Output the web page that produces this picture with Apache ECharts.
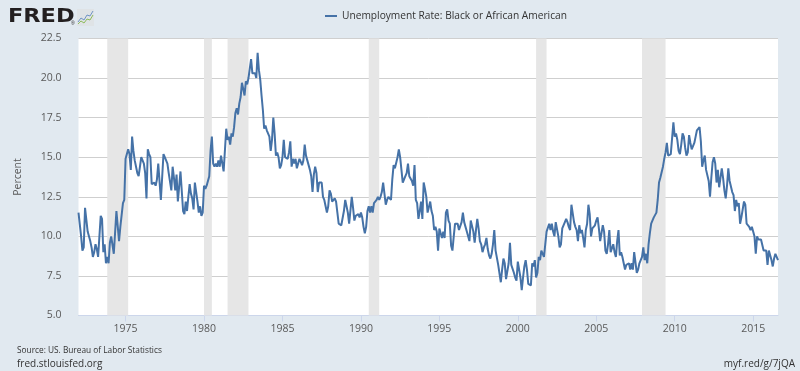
<!DOCTYPE html>
<html><head><meta charset="utf-8">
<script src="https://cdn.jsdelivr.net/npm/echarts@6/dist/echarts.min.js"></script>
<style>html,body{margin:0;padding:0;background:#e1e9f0;}#c{width:800px;height:371px;}</style>
</head><body><div id="c"></div>
<script>
// Monthly unemployment rate, Black or African American, starting 1972-01
const startYear = 1972;
const v1970s = [
  11.5, 11.4, 10.0, 9.1, 9.3, 11.8, 11.8, 10.3, 10.2, 9.7, 9.3, 8.7,   // 1972
  9.0, 9.5, 9.2, 8.7, 8.8, 11.3, 11.1, 9.0, 9.5, 8.3, 8.7, 8.3,        // 1973
  9.6, 10.0, 10.0, 8.9, 8.8, 11.6, 11.5, 9.7, 10.6, 10.7, 12.1, 12.3,  // 1974
  14.9, 15.0, 15.5, 15.2, 14.2, 16.3, 15.4, 14.8, 14.9, 14.0, 13.8, 14.4, // 1975
  15.0, 15.1, 14.6, 14.0, 12.4, 15.5, 15.2, 15.0, 13.3, 13.2, 13.4, 13.2, // 1976
  13.6, 14.6, 14.7, 12.3, 12.4, 15.2, 15.0, 15.1, 14.6, 14.0, 14.1, 12.9, // 1977
  14.4, 13.7, 12.9, 13.9, 12.2, 12.1, 14.1, 14.2, 11.6, 11.4, 12.2, 11.6, // 1978
  12.5, 13.3, 12.7, 12.4, 11.7, 13.4, 13.3, 12.2, 11.5, 11.9, 11.3, 11.5  // 1979
];
const v1980s = [
  13.2, 13.0, 13.2, 13.3, 13.8, 15.4, 16.3, 14.6, 14.4, 14.6, 14.4, 14.8, // 1980
  14.4, 15.1, 15.0, 14.1, 14.2, 16.8, 16.1, 16.3, 15.8, 16.5, 16.3, 16.9, // 1981
  17.8, 18.1, 17.7, 18.4, 18.8, 19.7, 19.6, 18.9, 19.8, 19.6, 20.0, 20.6, // 1982
  21.2, 20.3, 20.2, 20.3, 20.0, 21.6, 20.5, 19.9, 18.9, 18.0, 16.8, 17.0, // 1983
  16.7, 16.6, 16.3, 15.4, 16.1, 17.5, 16.5, 15.1, 15.3, 15.0, 14.3, 14.5, // 1984
  15.0, 16.1, 15.0, 15.1, 14.9, 15.3, 16.0, 14.4, 14.9, 14.6, 14.9, 14.3, // 1985
  14.6, 14.9, 14.7, 14.5, 14.8, 15.8, 15.1, 14.8, 14.7, 14.2, 13.8, 12.8, // 1986
  13.9, 14.4, 14.0, 12.8, 13.4, 13.5, 13.4, 12.5, 12.3, 11.9, 11.5, 11.9, // 1987
  12.9, 12.7, 12.2, 12.3, 12.4, 12.2, 11.5, 10.8, 10.7, 10.7, 10.7, 11.6, // 1988
  12.3, 11.9, 11.5, 10.8, 10.9, 12.5, 11.8, 11.0, 11.3, 11.2, 11.4, 11.2  // 1989
];
const v1990s = [
  11.5, 11.2, 10.6, 10.2, 10.6, 11.6, 11.9, 11.5, 11.9, 11.5, 12.1, 12.2, // 1990
  12.3, 12.5, 12.3, 12.5, 12.8, 13.4, 12.7, 12.0, 12.3, 12.5, 12.6, 12.3, // 1991
  13.6, 14.5, 14.3, 14.4, 15.0, 15.5, 15.0, 14.2, 13.4, 13.6, 13.8, 14.0, // 1992
  14.6, 13.8, 13.9, 13.5, 13.2, 14.5, 12.3, 12.1, 11.1, 11.6, 12.2, 11.1, // 1993
  13.4, 13.0, 12.5, 11.5, 11.6, 12.2, 11.6, 11.3, 10.4, 10.6, 10.3, 9.1,  // 1994
  10.5, 10.4, 9.9, 10.3, 9.9, 11.5, 11.7, 11.0, 10.8, 9.4, 9.1, 10.0,     // 1995
  10.8, 10.7, 10.8, 10.4, 10.3, 10.9, 11.5, 10.9, 10.6, 10.3, 10.0, 9.7,  // 1996
  11.0, 11.0, 10.3, 9.6, 10.4, 11.1, 10.5, 9.7, 9.5, 9.0, 9.3, 9.5,       // 1997
  9.9, 9.2, 8.8, 8.6, 8.9, 9.5, 10.4, 9.1, 9.0, 8.2, 8.1, 7.1,            // 1998
  7.9, 8.6, 8.3, 7.3, 7.3, 8.3, 9.6, 8.2, 8.3, 7.7, 7.4, 7.2              // 1999
];
const v2000s = [
  8.4, 8.3, 7.4, 6.6, 7.4, 8.1, 8.5, 7.9, 7.0, 7.0, 6.9, 8.3,             // 2000
  8.1, 8.5, 7.4, 7.7, 8.7, 8.5, 9.1, 9.2, 8.7, 9.5, 10.3, 10.2,           // 2001
  10.8, 10.4, 10.8, 10.3, 10.0, 10.9, 10.8, 10.0, 9.3, 9.5, 10.5, 10.6,   // 2002
  10.9, 11.1, 10.9, 10.6, 10.4, 12.0, 12.0, 10.9, 10.6, 10.4, 9.7, 10.7,  // 2003
  10.2, 10.4, 9.9, 9.3, 10.4, 10.8, 12.0, 11.4, 10.0, 10.5, 10.4, 10.7,   // 2004
  11.0, 11.2, 10.5, 9.7, 9.7, 10.7, 10.3, 9.1, 8.9, 9.5, 10.4, 9.0,       // 2005
  8.9, 9.5, 9.0, 8.7, 9.7, 10.4, 8.8, 9.0, 8.7, 8.3, 7.9, 8.2,            // 2006
  8.2, 8.3, 7.9, 8.3, 7.9, 9.0, 8.9, 7.7, 7.9, 8.3, 8.5, 8.7,             // 2007
  9.3, 8.5, 8.9, 8.3, 9.5, 10.2, 10.8, 10.9, 11.2, 11.1, 11.5, 12.3,      // 2008
  13.4, 13.7, 13.6, 14.4, 14.9, 15.3, 15.9, 15.1, 15.2, 15.2, 15.3, 17.2  // 2009
];
const v2010s = [
  16.3, 16.5, 16.1, 15.4, 15.2, 15.8, 16.5, 16.3, 15.6, 15.1, 15.3, 16.4, // 2010
  15.9, 15.5, 15.6, 15.9, 16.3, 16.7, 16.8, 16.9, 16.0, 14.4, 14.8, 15.1, // 2011
  14.2, 14.1, 13.5, 12.5, 13.7, 14.7, 15.0, 14.6, 13.4, 14.2, 13.1, 13.7, // 2012
  14.3, 13.7, 12.9, 12.4, 13.2, 14.3, 13.5, 13.4, 12.8, 12.6, 11.6, 12.3, // 2013
  11.9, 12.1, 10.8, 11.2, 11.2, 12.2, 12.0, 10.8, 10.7, 10.6, 10.4, 10.6, // 2014
  10.3, 10.0, 8.9, 10.0, 9.8, 9.7, 9.8, 9.8, 9.1, 9.1, 9.1, 8.2,          // 2015
  9.1, 9.0, 8.5, 8.1, 8.6, 8.9, 9.0, 8.5                                 // 2016 (Jan-Aug)
];
const recessions = [
  ['1973-11', '1975-03'], ['1980-01', '1980-07'], ['1981-07', '1982-11'],
  ['1990-07', '1991-03'], ['2001-03', '2001-11'], ['2007-12', '2009-06']
];
const xTickYears = [1975, 1980, 1985, 1990, 1995, 2000, 2005, 2010, 2015];
const seriesName = 'Unemployment Rate: Black or African American';

const allValues = [].concat(v1970s, v1980s, v1990s, v2000s, v2010s);
const toX = i => startYear + i / 12;
const ym = s => { const [y, m] = s.split('-').map(Number); return y + (m - 1) / 12; };
const lineData = allValues.map((v, i) => [toX(i), v]);
const FONT = '"Open Sans", sans-serif';

const chart = echarts.init(document.getElementById('c'), null, {renderer: 'canvas'});
chart.setOption({
  animation: false,
  backgroundColor: '#e1e9f0',
  textStyle: {fontFamily: FONT},
  grid: {left: 78.5, right: 22, top: 38.5, bottom: 55.5, show: true, backgroundColor: '#ffffff', borderWidth: 0},
  legend: {
    left: 325, top: 11, padding: 0, itemWidth: 12, itemHeight: 2, itemGap: 5,
    icon: 'rect',
    textStyle: {color: '#333333', fontSize: 10.2, fontFamily: FONT, padding: [0, 0, 0, 0]},
    data: [seriesName]
  },
  xAxis: {
    type: 'value', min: startYear, max: toX(allValues.length - 1),
    axisLine: {show: true, lineStyle: {color: '#ccd6eb'}},
    axisTick: {show: true, customValues: xTickYears, length: 6, lineStyle: {color: '#ccd6eb'}},
    axisLabel: {customValues: xTickYears, formatter: v => String(Math.round(v)), color: '#595959', fontSize: 10.5, margin: 8, fontFamily: FONT},
    splitLine: {show: false}
  },
  yAxis: {
    type: 'value', min: 5, max: 22.5, interval: 2.5,
    name: 'Percent', nameLocation: 'middle', nameGap: 55,
    nameTextStyle: {color: '#595959', fontSize: 10.5, fontFamily: FONT},
    axisLabel: {formatter: v => v.toFixed(1), color: '#595959', fontSize: 10.5, margin: 17, fontFamily: FONT},
    axisLine: {show: false}, axisTick: {show: false},
    splitLine: {lineStyle: {color: '#cfcfcf', width: 1}}
  },
  series: [{
    name: seriesName, type: 'line', data: lineData, showSymbol: false, symbol: 'none',
    lineStyle: {color: '#4572a7', width: 2}, itemStyle: {color: '#4572a7'}, z: 3,
    markArea: {
      silent: true,
      itemStyle: {color: '#e6e6e6'},
      data: recessions.map(([s, e]) => [{xAxis: ym(s)}, {xAxis: ym(e)}])
    }
  }],
  graphic: [
    {type: 'text', x: 8, y: 7, scaleX: 1.15, style: {text: 'FRED', font: '900 19.5px "DejaVu Sans", sans-serif', fill: '#231f20'}},
    {type: 'text', left: 71, top: 21, style: {text: '®', font: '5px sans-serif', fill: '#231f20'}},
    {type: 'rect', shape: {x: 77, y: 9, width: 17, height: 17}, style: {fill: '#dfe3e6'}},
    {type: 'polyline', shape: {points: [[78, 22], [81, 18], [84, 20], [87, 15], [90, 16], [93, 11]]}, style: {stroke: '#6f94c4', lineWidth: 1, fill: null}},
    {type: 'polyline', shape: {points: [[78, 24], [81, 21], [84, 23], [87, 19], [90, 20], [93, 15]]}, style: {stroke: '#8dbb5b', lineWidth: 1, fill: null}},
    {type: 'text', left: 17, top: 346.5, style: {text: 'Source: US. Bureau of Labor Statistics', font: '8.3px "Open Sans", sans-serif', fill: '#333333'}},
    {type: 'text', left: 17, top: 359.5, style: {text: 'fred.stlouisfed.org', font: '10px "Open Sans", sans-serif', fill: '#333333'}},
    {type: 'text', right: 5, top: 359.5, style: {text: 'myf.red/g/7jQA', font: '10px "Open Sans", sans-serif', fill: '#333333'}}
  ]
});
</script>
</body></html>
